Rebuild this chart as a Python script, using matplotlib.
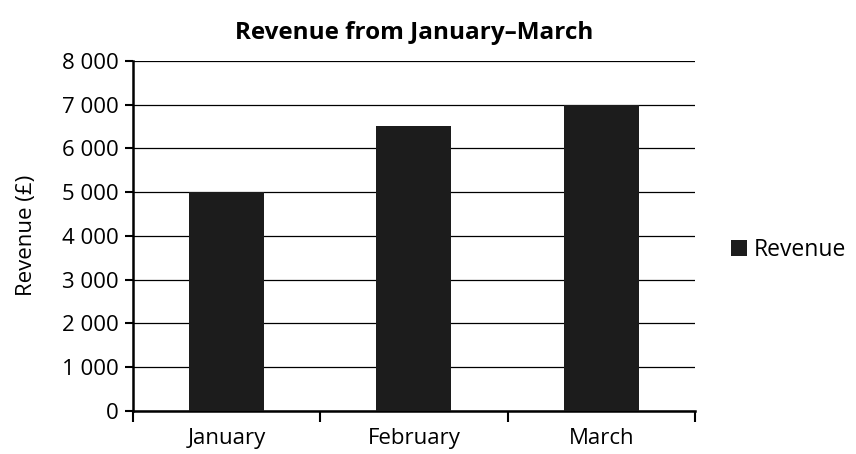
import numpy as np
import matplotlib.pyplot as plt
from matplotlib.ticker import FuncFormatter, FixedLocator

plt.rcParams['font.family'] = ['Open Sans', 'DejaVu Sans']

months = ['January', 'February', 'March']
revenue = [5000, 6500, 7000]
y_ticks = [0, 1000, 2000, 3000, 4000, 5000, 6000, 7000, 8000]

fig = plt.figure(figsize=(8.56, 4.54), dpi=100)
ax = fig.add_axes([0.155, 0.095, 0.657, 0.771])

x = np.arange(len(months))
ax.bar(x, revenue, width=0.4, color='#1c1c1c', label='Revenue', zorder=3)

ax.set_xlim(-0.5, len(months) - 0.5)
ax.set_ylim(0, 8000)
ax.set_yticks(y_ticks)
ax.yaxis.set_major_formatter(FuncFormatter(lambda v, p: f'{int(v):,}'.replace(',', ' ')))
ax.grid(axis='y', color='black', linewidth=0.9, zorder=0)

# category boundary ticks on x, labels at centres
ax.xaxis.set_major_locator(FixedLocator(np.arange(len(months) + 1) - 0.5))
ax.xaxis.set_minor_locator(FixedLocator(x))
ax.set_xticklabels([])
ax.set_xticklabels(months, minor=True)
ax.tick_params(axis='x', which='major', length=8, width=1.5, direction='out')
ax.tick_params(axis='x', which='minor', length=0, pad=12, labelsize=16)
ax.tick_params(axis='y', length=6, width=1.5, labelsize=16, pad=4)

for s in ['top', 'right']:
    ax.spines[s].set_visible(False)
ax.spines['left'].set_linewidth(1.8)
ax.spines['bottom'].set_linewidth(1.8)

ax.set_ylabel('Revenue (£)', fontsize=16, labelpad=18)
ax.set_title('Revenue from January\u2013March', fontsize=17.5, fontweight='bold', pad=16)

fig.legend(loc='center left', bbox_to_anchor=(0.83, 0.45), frameon=False,
           fontsize=16.5, handlelength=0.7, handleheight=0.7, handletextpad=0.3)

fig.savefig('out.png', dpi=100)
